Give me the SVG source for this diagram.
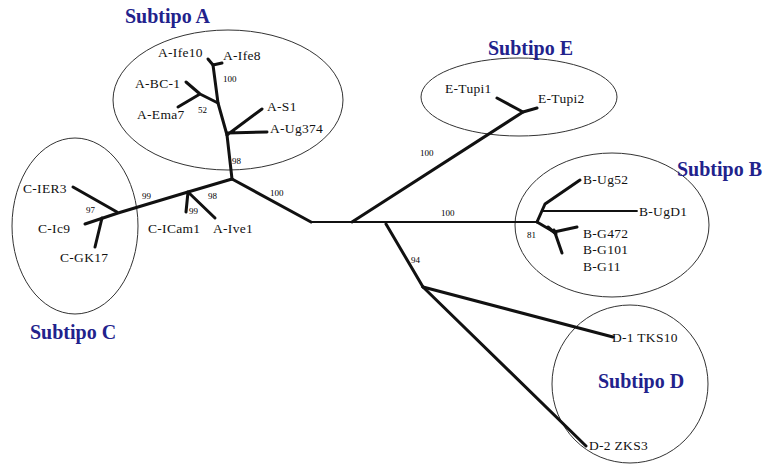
<svg xmlns="http://www.w3.org/2000/svg" width="766" height="472" viewBox="0 0 766 472">
  <style>
    .br { fill: none; stroke: #111; stroke-width: 3; stroke-linecap: round; stroke-linejoin: round; }
    .thin { stroke-width: 1.8; }
    .grp { fill: none; stroke: #333; stroke-width: 1; }
    .tx { font-family: "Liberation Serif", "Times New Roman", serif; font-size: 13.5px; fill: #111; letter-spacing: 0.3px; }
    .bs { font-family: "Liberation Serif", "Times New Roman", serif; font-size: 9px; fill: #000; }
    .sub { font-family: "Liberation Serif", "Times New Roman", serif; font-size: 20px; font-weight: bold; fill: #22228c; }
  </style>
  <rect width="766" height="472" fill="#fff"/>

  <!-- subtype enclosures -->
  <g id="subtipo-a">
    <ellipse class="grp" cx="228" cy="100" rx="115" ry="70"/>
    <text class="sub" x="125" y="23">Subtipo A</text>
  </g>
  <g id="subtipo-c">
    <ellipse class="grp" cx="75" cy="226" rx="63" ry="88"/>
    <text class="sub" x="30" y="339">Subtipo C</text>
  </g>
  <g id="subtipo-e">
    <ellipse class="grp" cx="519" cy="97" rx="98" ry="39"/>
    <text class="sub" x="488" y="55">Subtipo E</text>
  </g>
  <g id="subtipo-b">
    <ellipse class="grp" cx="612" cy="225" rx="97" ry="72"/>
    <text class="sub" x="677" y="176">Subtipo B</text>
  </g>
  <g id="subtipo-d">
    <ellipse class="grp" cx="630" cy="384" rx="78" ry="79"/>
    <text class="sub" x="598" y="388">Subtipo D</text>
  </g>

  <!-- tree branches -->
  <g id="connectors">
    <!-- root -->
    <path class="br thin" d="M311 222 L537 222"/>
    <path class="br" d="M232 179 L311 222"/>
    <!-- A clade -->
    <path class="br" d="M232 179 L227 135 L218 103 L213 65"/>
    <path class="br" d="M213 65 L208 59 M213 65 L222 63"/>
    <path class="br" d="M218 103 L200 94 L186 82 M200 94 L178 107"/>
    <path class="br" d="M227 135 L262 109 M227 133 L267 132"/>
    <!-- C clade + A-Ive1 -->
    <path class="br" d="M232 179 L188 192 L118 213 L85 224"/>
    <path class="br" d="M188 192 L186 212 M188 192 L215 218"/>
    <path class="br" d="M73 187 L117 212"/>
    <path class="br" d="M102 218 L95 247"/>
    <!-- E clade -->
    <path class="br" d="M352 222 L523 112"/>
    <path class="br" d="M497 98 L523 112 L537 108"/>
    <!-- D clade -->
    <path class="br" d="M386 224 L423 287"/>
    <path class="br" d="M423 287 L613 337"/>
    <path class="br" d="M423 287 L586 446"/>
    <!-- B clade -->
    <path class="br" d="M537 222 L545 204 L580 180"/>
    <path class="br thin" d="M543 211 L637 211"/>
    <path class="br" d="M537 222 L554 232 L577 227"/>
    <path class="br" d="M554 230 L562 253"/>
    <path class="br" d="M548 227 L556 234"/>
  </g>

  <!-- bootstrap values -->
  <g id="bootstrap">
    <text class="bs" x="223" y="82">100</text>
    <text class="bs" x="198" y="113">52</text>
    <text class="bs" x="232" y="164">98</text>
    <text class="bs" x="270" y="196">100</text>
    <text class="bs" x="142" y="199">99</text>
    <text class="bs" x="86" y="213">97</text>
    <text class="bs" x="189" y="214">99</text>
    <text class="bs" x="208" y="199">98</text>
    <text class="bs" x="420" y="156">100</text>
    <text class="bs" x="441" y="216">100</text>
    <text class="bs" x="411" y="263">94</text>
    <text class="bs" x="527" y="238">81</text>
  </g>

  <!-- taxa -->
  <g id="taxon-a-ife10"><text class="tx" x="158" y="57">A-Ife10</text></g>
  <g id="taxon-a-ife8"><text class="tx" x="223" y="60">A-Ife8</text></g>
  <g id="taxon-a-bc1"><text class="tx" x="135" y="88">A-BC-1</text></g>
  <g id="taxon-a-ema7"><text class="tx" x="137" y="119">A-Ema7</text></g>
  <g id="taxon-a-s1"><text class="tx" x="267" y="111">A-S1</text></g>
  <g id="taxon-a-ug374"><text class="tx" x="270" y="133">A-Ug374</text></g>
  <g id="taxon-c-ier3"><text class="tx" x="23" y="193">C-IER3</text></g>
  <g id="taxon-c-ic9"><text class="tx" x="38" y="233">C-Ic9</text></g>
  <g id="taxon-c-gk17"><text class="tx" x="60" y="262">C-GK17</text></g>
  <g id="taxon-c-icam1"><text class="tx" x="148" y="233">C-ICam1</text></g>
  <g id="taxon-a-ive1"><text class="tx" x="213" y="233">A-Ive1</text></g>
  <g id="taxon-e-tupi1"><text class="tx" x="445" y="93">E-Tupi1</text></g>
  <g id="taxon-e-tupi2"><text class="tx" x="538" y="103">E-Tupi2</text></g>
  <g id="taxon-b-ug52"><text class="tx" x="583" y="184">B-Ug52</text></g>
  <g id="taxon-b-ugd1"><text class="tx" x="639" y="216">B-UgD1</text></g>
  <g id="taxon-b-g472"><text class="tx" x="583" y="238">B-G472</text></g>
  <g id="taxon-b-g101"><text class="tx" x="583" y="254">B-G101</text></g>
  <g id="taxon-b-g11"><text class="tx" x="583" y="271">B-G11</text></g>
  <g id="taxon-d1-tks10"><text class="tx" x="612" y="342">D-1 TKS10</text></g>
  <g id="taxon-d2-zks3"><text class="tx" x="589" y="450">D-2 ZKS3</text></g>
</svg>
